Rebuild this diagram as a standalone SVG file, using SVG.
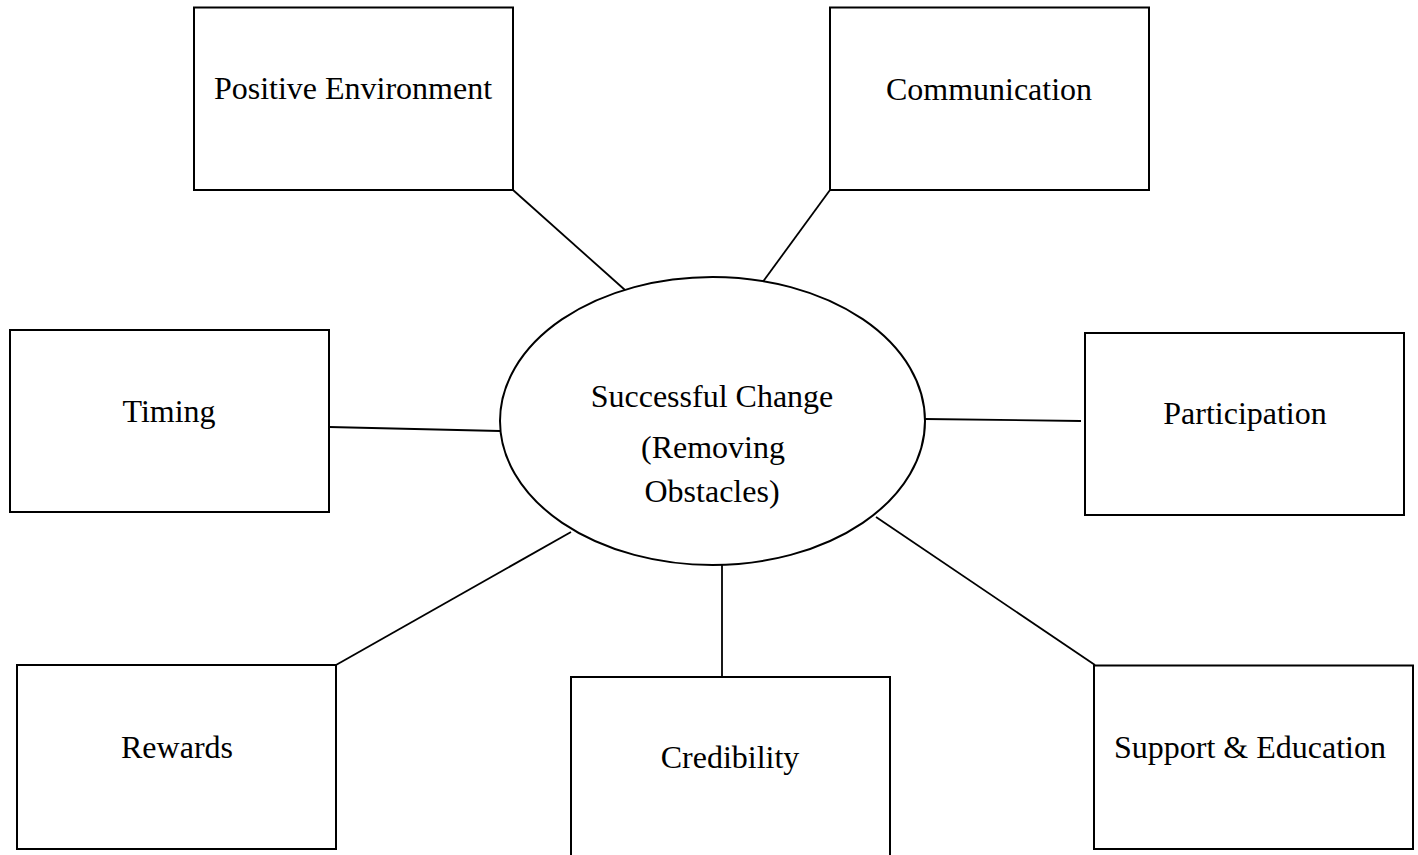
<svg xmlns="http://www.w3.org/2000/svg" width="1418" height="855" viewBox="0 0 1418 855">
  <style>
    .box { fill: #ffffff; stroke: #000000; stroke-width: 2; }
    .hub { fill: #ffffff; stroke: #000000; stroke-width: 2; }
    .link { stroke: #000000; stroke-width: 1.8; fill: none; }
    .label { font-family: "Liberation Serif", "Times New Roman", serif; font-size: 32px; fill: #000000; text-anchor: middle; }
  </style>
  <rect width="1418" height="855" fill="#ffffff"/>

  <!-- spokes from the central ellipse to each factor -->
  <g id="connectors">
    <line class="link" x1="513" y1="190" x2="625" y2="290"/>
    <line class="link" x1="830" y1="190" x2="762" y2="283"/>
    <line class="link" x1="329" y1="427" x2="500" y2="431"/>
    <line class="link" x1="925" y1="419" x2="1081" y2="421"/>
    <line class="link" x1="336" y1="665" x2="571" y2="532"/>
    <line class="link" x1="722" y1="565" x2="722" y2="677"/>
    <line class="link" x1="876" y1="517" x2="1095" y2="665"/>
  </g>

  <g id="hub">
    <ellipse class="hub" cx="712.5" cy="421" rx="212.5" ry="144"/>
    <text class="label" x="712" y="407">Successful Change</text>
    <text class="label" x="713" y="458">(Removing</text>
    <text class="label" x="712" y="502">Obstacles)</text>
  </g>

  <g id="positive-environment">
    <rect class="box" x="194" y="7.5" width="319" height="182.5"/>
    <text class="label" x="353" y="99">Positive Environment</text>
  </g>

  <g id="communication">
    <rect class="box" x="830" y="7.5" width="319" height="182.5"/>
    <text class="label" x="989" y="100">Communication</text>
  </g>

  <g id="timing">
    <rect class="box" x="10" y="330" width="319" height="182"/>
    <text class="label" x="169" y="422">Timing</text>
  </g>

  <g id="participation">
    <rect class="box" x="1085" y="333" width="319" height="182"/>
    <text class="label" x="1245" y="424">Participation</text>
  </g>

  <g id="rewards">
    <rect class="box" x="17" y="665" width="319" height="184"/>
    <text class="label" x="177" y="758">Rewards</text>
  </g>

  <g id="credibility">
    <rect class="box" x="571" y="677" width="319" height="190"/>
    <text class="label" x="730" y="768">Credibility</text>
  </g>

  <g id="support-education">
    <rect class="box" x="1094" y="665.5" width="319" height="183.5"/>
    <text class="label" x="1250" y="758">Support &amp; Education</text>
  </g>
</svg>
